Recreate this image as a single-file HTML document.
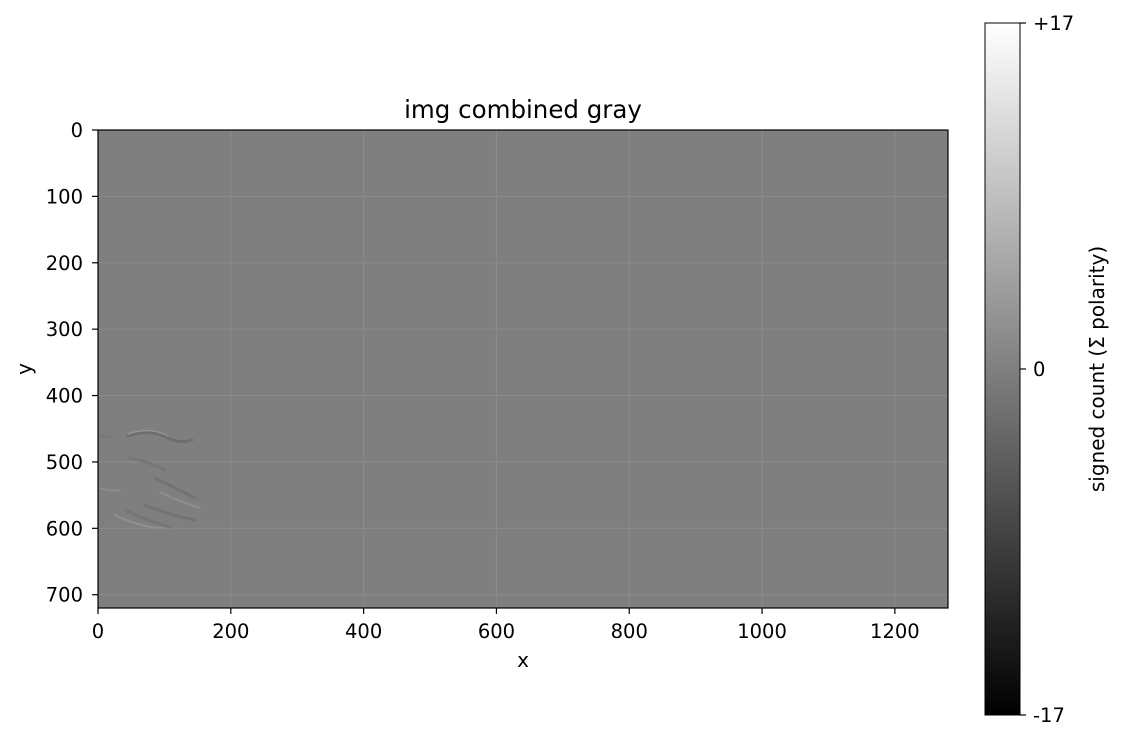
<!DOCTYPE html>
<html><head><meta charset="utf-8"><style>
body{margin:0;background:#fff;font-family:"DejaVu Sans","Liberation Sans",sans-serif}
</style></head><body>
<svg width="1121" height="743" viewBox="0 0 1121 743" xmlns="http://www.w3.org/2000/svg" font-family="DejaVu Sans, Liberation Sans, sans-serif">
<defs><linearGradient id="cb" x1="0" y1="1" x2="0" y2="0"><stop offset="0" stop-color="#000"/><stop offset="1" stop-color="#fff"/></linearGradient></defs>
<text x="523" y="118" font-size="24.5" text-anchor="middle">img combined gray</text>
<rect x="98" y="130" width="850" height="478" fill="#7f7f7f"/>
<g id="grid"></g>
<g fill="none" stroke-linecap="round">
<path d="M128 436 Q150 428 168 438 Q180 444 192 440" stroke="#6e6e6e" stroke-width="3"/>
<path d="M128 434 Q150 426 168 436" stroke="#939393" stroke-width="1.5"/>
<path d="M130 458 Q150 462 165 470" stroke="#767676" stroke-width="3"/>
<path d="M155 478 Q175 488 195 498" stroke="#737373" stroke-width="3"/>
<path d="M160 492 Q180 502 200 508" stroke="#8e8e8e" stroke-width="2"/>
<path d="M145 505 Q170 515 195 520" stroke="#737373" stroke-width="3"/>
<path d="M125 510 Q150 522 170 527" stroke="#767676" stroke-width="3"/>
<path d="M115 515 Q140 528 165 528" stroke="#909090" stroke-width="2"/>
<path d="M100 488 Q110 492 120 490" stroke="#8c8c8c" stroke-width="2"/>
<path d="M100 436 Q105 438 110 436" stroke="#767676" stroke-width="2"/>
</g>
<rect x="98" y="130" width="850" height="478" fill="none" stroke="#000" stroke-width="1.2"/>
<g id="xt"></g>
<g id="yt"></g>
<text x="523" y="667" font-size="20" text-anchor="middle">x</text>
<text x="31" y="369" font-size="20" text-anchor="middle" transform="rotate(-90 31 369)">y</text>
<rect x="985" y="23" width="35" height="692" fill="url(#cb)" stroke="#000" stroke-width="1"/>
<g id="cbt"></g>
<text x="1104" y="369" font-size="20" text-anchor="middle" transform="rotate(-90 1104 369)">signed count (Σ polarity)</text>
</svg>
<script>
const xTicks=[0,200,400,600,800,1000,1200];
const yTicks=[0,100,200,300,400,500,600,700];
const cbTicks=[17,0,-17];
const cbLabels=["+17","0","-17"];
const xMax=1280,yMax=720,cbMin=-17,cbMax=17;
const NS="http://www.w3.org/2000/svg";
const X=v=>98+v/xMax*850, Y=v=>130+v/yMax*478, C=v=>715-(v-cbMin)/(cbMax-cbMin)*692;
function mk(t,a,p){const e=document.createElementNS(NS,t);for(const k in a)e.setAttribute(k,a[k]);p.appendChild(e);return e;}
const g=document.getElementById('grid'),xt=document.getElementById('xt'),yt=document.getElementById('yt'),cb=document.getElementById('cbt');
xTicks.forEach(v=>{
 const l=mk('line',{x1:X(v),x2:X(v),y1:130,y2:608,stroke:'#8c8c8c','stroke-width':1},g);
 
 
 const t=mk('line',{x1:X(v),x2:X(v),y1:608,y2:614,stroke:'#000','stroke-width':1.2},xt);
 
 
 const s=mk('text',{x:X(v),y:638,'font-size':19.5,'text-anchor':'middle'},xt);s.textContent=v;
 
 
});
yTicks.forEach(v=>{
 const l=mk('line',{x1:98,x2:948,y1:Y(v),y2:Y(v),stroke:'#8c8c8c','stroke-width':1},g);
 
 
 const t=mk('line',{x1:92,x2:98,y1:Y(v),y2:Y(v),stroke:'#000','stroke-width':1.2},yt);
 
 
 const s=mk('text',{x:83,y:Y(v)+7,'font-size':19.5,'text-anchor':'end'},yt);s.textContent=v;
 
 
});
cbTicks.forEach((v,i)=>{
 const t=mk('line',{x1:1020,x2:1026,y1:C(v),y2:C(v),stroke:'#000','stroke-width':1.2},cb);
 
 
 const s=mk('text',{x:1033,y:C(v)+7,'font-size':19.5},cb);s.textContent=cbLabels[i];
 
 
});
</script>
</body></html>
